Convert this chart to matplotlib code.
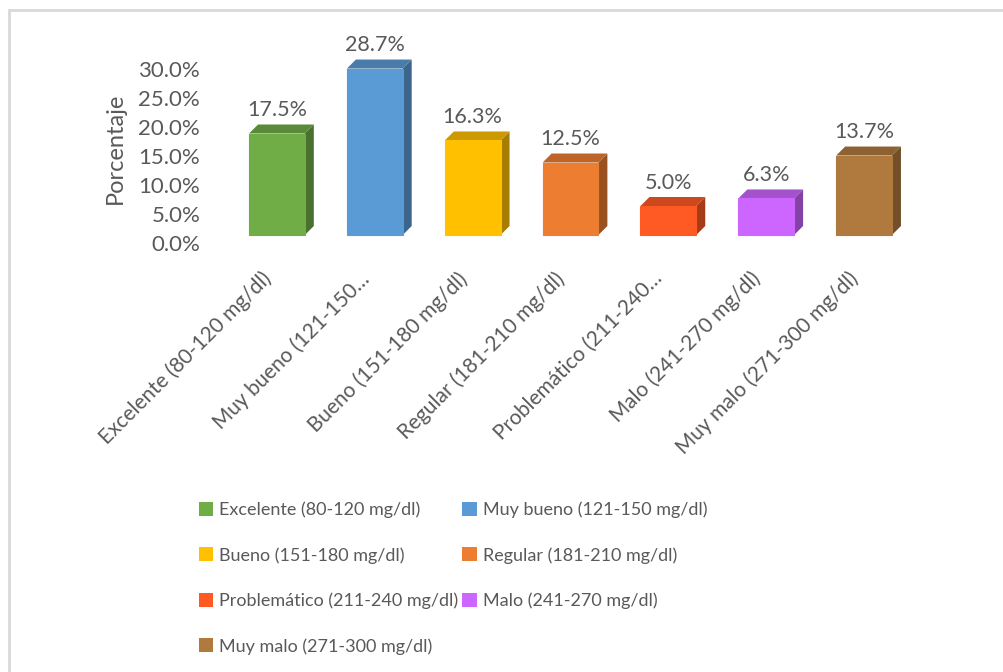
import matplotlib
matplotlib.use("Agg")
import matplotlib.pyplot as plt
from matplotlib.patches import Polygon, Rectangle, Patch
from matplotlib.colors import to_rgb
from matplotlib.transforms import ScaledTranslation

# datos
categorias = ["Excelente (80-120 mg/dl)", "Muy bueno (121-150 mg/dl)",
              "Bueno (151-180 mg/dl)", "Regular (181-210 mg/dl)",
              "Problemático (211-240 mg/dl)", "Malo (241-270 mg/dl)",
              "Muy malo (271-300 mg/dl)"]
etiquetas_x = ["Excelente (80-120 mg/dl)", "Muy bueno (121-150…",
               "Bueno (151-180 mg/dl)", "Regular (181-210 mg/dl)",
               "Problemático (211-240…", "Malo (241-270 mg/dl)",
               "Muy malo (271-300 mg/dl)"]
porcentajes = [17.5, 28.7, 16.3, 12.5, 5.0, 6.3, 13.7]
colores = ["#70AD47", "#5B9BD5", "#FFC000", "#ED7D31",
           "#FF5A24", "#CC66FF", "#B07A3E"]
yticks = [0, 5, 10, 15, 20, 25, 30]

GRIS = "#595959"
plt.rcParams['font.family'] = ['Lato', 'DejaVu Sans']

W, H = 1004, 672
fig = plt.figure(figsize=(W / 100, H / 100), dpi=100)

# borde del area del grafico (solo se ven arriba e izquierda)
fig.patches.append(Rectangle((9 / W, -0.1), 1.2, (H - 10) / H + 0.1,
                             transform=fig.transFigure, fill=False,
                             edgecolor="#D9D9D9", lw=2))

# ejes: x de -0.5 a 6.5, y de 0 a 30
x0, x1 = 228, 913
ybot, ytop = 235, 61
ax = fig.add_axes([x0 / W, (H - ybot) / H, (x1 - x0) / W, (ybot - ytop) / H])
ax.set_xlim(-0.5, 6.5)
ax.set_ylim(0, 30)
for s in ax.spines.values():
    s.set_visible(False)
ax.set_facecolor("none")

def oscuro(c, f):
    r, g, b = to_rgb(c)
    return (r * f, g * f, b * f)

ancho = 0.57
# profundidad en unidades de datos (~9 px)
dx = 9 / ((x1 - x0) / 7)
dy = 9 / ((ybot - ytop) / 30)

for i, (v, c) in enumerate(zip(porcentajes, colores)):
    l, r = i - ancho / 2, i + ancho / 2
    ax.add_patch(Polygon([(r, 0), (r + dx, dy), (r + dx, v + dy), (r, v)],
                         closed=True, facecolor=oscuro(c, 0.65),
                         edgecolor="none", clip_on=False))
    ax.add_patch(Polygon([(l, v), (r, v), (r + dx, v + dy), (l + dx, v + dy)],
                         closed=True, facecolor=oscuro(c, 0.8),
                         edgecolor="none", clip_on=False))
    ax.add_patch(Rectangle((l, 0), ancho, v, facecolor=c,
                           edgecolor=c, lw=0.8, clip_on=False))
    ax.text(i, v + dy + 0.7, f"{v:.1f}%", ha="center", va="bottom",
            fontsize=15.5, color=GRIS)

# eje y (etiquetas desplazadas como en el grafico 3D)
ax.set_yticks(yticks)
ax.set_yticklabels([f"{t:.1f}%" for t in yticks], fontsize=16, color=GRIS)
ax.tick_params(axis="y", length=0, pad=20)
off = ScaledTranslation(0, -8 / 100, fig.dpi_scale_trans)
for lab in ax.get_yticklabels():
    lab.set_transform(lab.get_transform() + off)
ax.set_ylabel("Porcentaje", fontsize=17, color=GRIS, labelpad=9)

# eje x
ax.set_xticks(range(len(etiquetas_x)))
ax.set_xticklabels(etiquetas_x, rotation=45, ha="right", va="top",
                   rotation_mode="anchor", fontsize=15, color=GRIS)
ax.tick_params(axis="x", length=0, pad=24)
offx = ScaledTranslation(-16 / 100, 0, fig.dpi_scale_trans)
for lab in ax.get_xticklabels():
    lab.set_transform(lab.get_transform() + offx)

# leyenda por filas
handles = [Patch(facecolor=c, label=n) for c, n in zip(colores, categorias)]
orden = [0, 2, 4, 6, 1, 3, 5]
leg = fig.legend([handles[k] for k in orden], [categorias[k] for k in orden],
                 ncol=2, loc="upper left", bbox_to_anchor=(195 / W, 1 - 498 / H),
                 frameon=False, fontsize=13, handlelength=0.8, handleheight=0.8,
                 handletextpad=0.35, columnspacing=0.2, labelspacing=1.6,
                 borderpad=0.2, borderaxespad=0)
for t in leg.get_texts():
    t.set_color(GRIS)

fig.savefig("out.png", dpi=100)
